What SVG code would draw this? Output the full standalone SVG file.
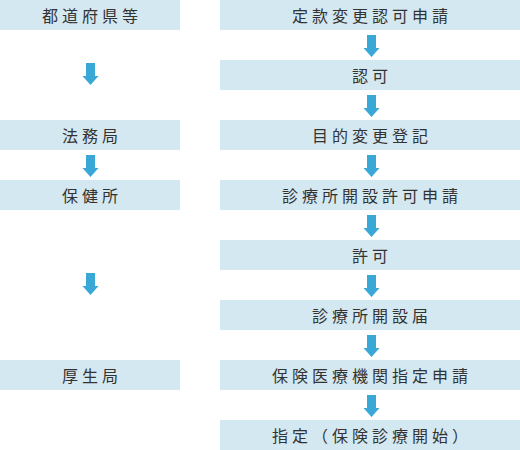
<svg xmlns="http://www.w3.org/2000/svg" width="520" height="450" viewBox="0 0 520 450">
<defs>
<style>
.box{fill:#d4e8f1}
.t{font-family:"Noto Sans CJK JP","Noto Sans CJK SC",sans-serif;font-size:16px;fill:#333;letter-spacing:4px;text-anchor:middle;dominant-baseline:central}
.arr{fill:#3aa8d6}
</style>
<path id="a" d="M-4.5,0 H4.5 V13 H8 L0,22 L-8,13 H-4.5 Z"/>
</defs>
<rect width="520" height="450" fill="#fff"/>
<g id="n-todofuken"><rect class="box" x="0" y="0" width="180" height="30"/><text class="t" x="92" y="15">都道府県等</text></g>
<g id="n-homukyoku"><rect class="box" x="0" y="120" width="180" height="30"/><text class="t" x="92" y="135">法務局</text></g>
<g id="n-hokenjo"><rect class="box" x="0" y="180" width="180" height="30"/><text class="t" x="92" y="195">保健所</text></g>
<g id="n-koseikyoku"><rect class="box" x="0" y="360" width="180" height="30"/><text class="t" x="92" y="375">厚生局</text></g>
<g id="n-r1"><rect class="box" x="220" y="0" width="300" height="30"/><text class="t" x="372" y="15">定款変更認可申請</text></g>
<g id="n-r2"><rect class="box" x="220" y="60" width="300" height="30"/><text class="t" x="372" y="75">認可</text></g>
<g id="n-r3"><rect class="box" x="220" y="120" width="300" height="30"/><text class="t" x="372" y="135">目的変更登記</text></g>
<g id="n-r4"><rect class="box" x="220" y="180" width="300" height="30"/><text class="t" x="372" y="195">診療所開設許可申請</text></g>
<g id="n-r5"><rect class="box" x="220" y="240" width="300" height="30"/><text class="t" x="372" y="255">許可</text></g>
<g id="n-r6"><rect class="box" x="220" y="300" width="300" height="30"/><text class="t" x="372" y="315">診療所開設届</text></g>
<g id="n-r7"><rect class="box" x="220" y="360" width="300" height="30"/><text class="t" x="372" y="375">保険医療機関指定申請</text></g>
<g id="n-r8"><rect class="box" x="220" y="420" width="300" height="30"/><text class="t" x="372" y="435">指定（保険診療開始）</text></g>
<g id="connectors" class="arr">
<use href="#a" x="90.5" y="63"/>
<use href="#a" x="90.5" y="155"/>
<use href="#a" x="90.5" y="273"/>
<use href="#a" x="371.5" y="35"/>
<use href="#a" x="371.5" y="95"/>
<use href="#a" x="371.5" y="155"/>
<use href="#a" x="371.5" y="215"/>
<use href="#a" x="371.5" y="275"/>
<use href="#a" x="371.5" y="335"/>
<use href="#a" x="371.5" y="395"/>
</g>
</svg>
